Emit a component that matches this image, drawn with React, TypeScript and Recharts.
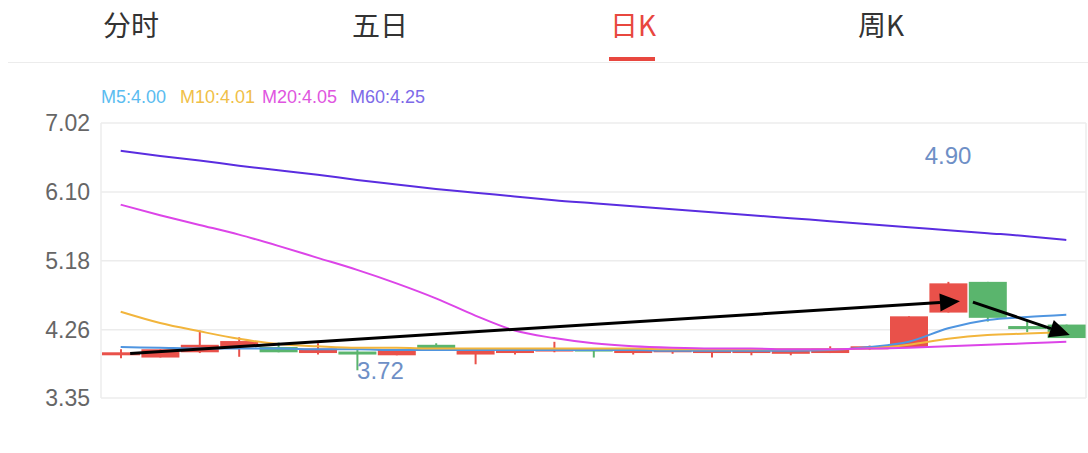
import { ComposedChart, Bar, Line, XAxis, YAxis, CartesianGrid, ReferenceLine, ReferenceDot } from 'recharts';

const RED = '#e9514a';
const GREEN = '#5ab56d';

const days = ['1', '2', '3', '4', '5', '6', '7', '8', '9', '10', '11', '12', '13',
    '14', '15', '16', '17', '18', '19', '20', '21', '22', '23', '24', '25'];

const opens = [3.92, 3.89, 3.96, 4.03, 4.03, 3.95, 3.97, 3.92, 4.06, 3.93, 3.95, 3.97, 4.01,
    3.95, 3.96, 3.95, 3.95, 3.94, 3.95, 4.00, 4.03, 4.49, 4.90, 4.31, 4.33];
const closes = [3.96, 4.00, 4.06, 4.11, 3.96, 4.01, 3.95, 4.00, 4.00, 4.00, 4.01, 4.01, 3.97,
    4.00, 4.00, 3.99, 3.99, 3.99, 4.01, 4.04, 4.44, 4.88, 4.42, 4.29, 4.15];
const highs = [4.00, 4.00, 4.25, 4.16, 4.09, 4.08, 3.99, 4.00, 4.08, 4.00, 4.01, 4.10, 4.01,
    4.00, 4.00, 3.99, 3.99, 3.99, 4.04, 4.05, 4.44, 4.90, 4.90, 4.38, 4.33];
const lows = [3.88, 3.89, 3.95, 3.90, 3.96, 3.93, 3.72, 3.92, 3.98, 3.80, 3.93, 3.96, 3.89,
    3.93, 3.94, 3.89, 3.92, 3.92, 3.95, 3.99, 4.02, 4.49, 4.37, 4.23, 4.15];

const ma5 = [4.03, 4.02, 4.01, 4.01, 4.01, 4.00, 4.00, 3.99, 3.99, 3.99, 3.99, 3.99, 3.99,
    3.99, 3.98, 3.98, 3.98, 3.98, 3.99, 4.03, 4.10, 4.28, 4.39, 4.43, 4.46];
const ma10 = [4.50, 4.35, 4.24, 4.14, 4.07, 4.04, 4.02, 4.02, 4.01, 4.01, 4.01, 4.01, 4.01,
    4.01, 4.00, 4.00, 4.00, 4.00, 4.00, 4.01, 4.06, 4.14, 4.19, 4.21, 4.23];
const ma20 = [5.93, 5.79, 5.66, 5.53, 5.38, 5.22, 5.06, 4.88, 4.68, 4.45, 4.25, 4.15, 4.08,
    4.04, 4.02, 4.01, 4.01, 4.00, 4.00, 4.01, 4.02, 4.04, 4.06, 4.08, 4.10];
const ma60 = [6.65, 6.58, 6.52, 6.45, 6.39, 6.33, 6.26, 6.20, 6.14, 6.09, 6.04, 5.99, 5.95,
    5.91, 5.87, 5.83, 5.79, 5.75, 5.71, 5.67, 5.63, 5.59, 5.55, 5.51, 5.46];

const priceTicks = [3.35, 4.26, 5.18, 6.10, 7.02];

const tabs = ['分时', '五日', '日K', '周K'];
const legendItems = [
    { label: 'M5:4.00', color: '#5bbcf0' },
    { label: 'M10:4.01', color: '#f0bf48' },
    { label: 'M20:4.05', color: '#e055e0' },
    { label: 'M60:4.25', color: '#7d6ae8' },
];

// annotation arrows, in (bar index, price)
const riseArrow = [{ x: 0.24, y: 3.945 }, { x: 21.3, y: 4.64 }];
const fallArrow = [{ x: 21.63, y: 4.63 }, { x: 24.09, y: 4.19 }];

const data = days.map((day, i) => ({
    day,
    idx: i,
    open: opens[i],
    close: closes[i],
    high: highs[i],
    low: lows[i],
    ma5: ma5[i],
    ma10: ma10[i],
    ma20: ma20[i],
    ma60: ma60[i],
}));

function Candle(props: any) {
    const { x, y, width, height, payload } = props;
    const { open, close, high, low } = payload;
    const color = close >= open ? RED : GREEN;
    const top = Math.min(y, y + height);
    const h = Math.abs(height);
    const ppu = h / (high - low);
    const bodyTop = top + (high - Math.max(open, close)) * ppu;
    const bodyH = Math.max(Math.abs(close - open) * ppu, 3);
    const cx = x + width / 2;
    return (
        <g>
            <line x1={cx} x2={cx} y1={top} y2={top + h} stroke={color} strokeWidth={2} />
            <rect x={x} y={bodyTop} width={width} height={bodyH} fill={color} />
        </g>
    );
}

function Arrow(props: any) {
    const { x1, y1, x2, y2 } = props;
    const ang = Math.atan2(y2 - y1, x2 - x1);
    const len = 20;
    const hw = 9;
    const bx = x2 - len * Math.cos(ang);
    const by = y2 - len * Math.sin(ang);
    const px = -Math.sin(ang) * hw;
    const py = Math.cos(ang) * hw;
    return (
        <g>
            <line x1={x1} y1={y1} x2={bx} y2={by} stroke="#000" strokeWidth={3} />
            <polygon points={`${x2},${y2} ${bx + px},${by + py} ${bx - px},${by - py}`} fill="#000" />
        </g>
    );
}

function PriceLabel(props: any) {
    const { cx, cy, text, anchor } = props;
    return (
        <text x={cx} y={cy} textAnchor={anchor} dominantBaseline="central" fill="#6e8fc6" fontSize={24}
            fontFamily="'Liberation Sans', Arial, sans-serif">
            {text}
        </text>
    );
}

const tabLeft = [103, 352, 610, 858];
const legendLeft = [101, 180, 262, 350];

function App() {
    return (
        <div style={{ position: 'absolute', left: 0, top: 0, width: 1088, height: 453, background: '#fff', overflow: 'hidden' }}>
            {tabs.map((t, i) => (
                <div key={t} style={{
                    position: 'absolute', left: tabLeft[i], top: 9, fontSize: 28, lineHeight: '30px',
                    fontFamily: "'Noto Sans CJK SC', sans-serif", color: i === 2 ? '#e8473f' : '#333',
                }}>{t}</div>
            ))}
            <div style={{ position: 'absolute', left: 609, top: 57, width: 46, height: 4, background: '#e8473f' }} />
            <div style={{ position: 'absolute', left: 8, top: 62, width: 1080, height: 1, background: '#ececec' }} />
            {legendItems.map((it, i) => (
                <div key={it.label} style={{
                    position: 'absolute', left: legendLeft[i], top: 86, fontSize: 18, lineHeight: '22px',
                    fontFamily: "'Liberation Sans', Arial, sans-serif", color: it.color,
                }}>{it.label}</div>
            ))}
            <div style={{ position: 'absolute', left: 0, top: 0 }}>
                <ComposedChart width={1088} height={453} data={data} margin={{ top: 123, right: 2, bottom: 55, left: 0 }}>
                    <CartesianGrid stroke="#ececec" strokeWidth={1.5}
                        verticalCoordinatesGenerator={({ offset }: any) => [offset.left, offset.left + offset.width]} />
                    <XAxis dataKey="day" hide />
                    <XAxis xAxisId="num" dataKey="idx" type="number" domain={[-0.5, 24.5]} allowDataOverflow hide />
                    <YAxis domain={[3.35, 7.02]} ticks={priceTicks} allowDataOverflow width={101}
                        axisLine={false} tickLine={false} tickSize={0} tickMargin={11}
                        tickFormatter={(v: number) => v.toFixed(2)}
                        tick={{ fill: '#666', fontSize: 23, fontFamily: "'Liberation Sans', Arial, sans-serif" }} />
                    <Bar dataKey={(d: any) => [d.low, d.high]} barSize={38} shape={<Candle />} isAnimationActive={false} />
                    <Line type="monotone" dataKey="ma5" stroke="#4f95e0" strokeWidth={2} dot={false} activeDot={false} isAnimationActive={false} />
                    <Line type="monotone" dataKey="ma10" stroke="#f2b53c" strokeWidth={2} dot={false} activeDot={false} isAnimationActive={false} />
                    <Line type="monotone" dataKey="ma20" stroke="#dc45e8" strokeWidth={2} dot={false} activeDot={false} isAnimationActive={false} />
                    <Line type="monotone" dataKey="ma60" stroke="#5a2de0" strokeWidth={2} dot={false} activeDot={false} isAnimationActive={false} />
                    <ReferenceDot x={days[21]} y={6.59} r={0} shape={<PriceLabel text="4.90" anchor="middle" />} />
                    <ReferenceDot x={days[6]} y={3.72} r={0} shape={<PriceLabel text="3.72" anchor="start" />} />
                    <ReferenceLine xAxisId="num" segment={riseArrow} shape={<Arrow />} />
                    <ReferenceLine xAxisId="num" segment={fallArrow} shape={<Arrow />} />
                </ComposedChart>
            </div>
        </div>
    );
}

export default App;
